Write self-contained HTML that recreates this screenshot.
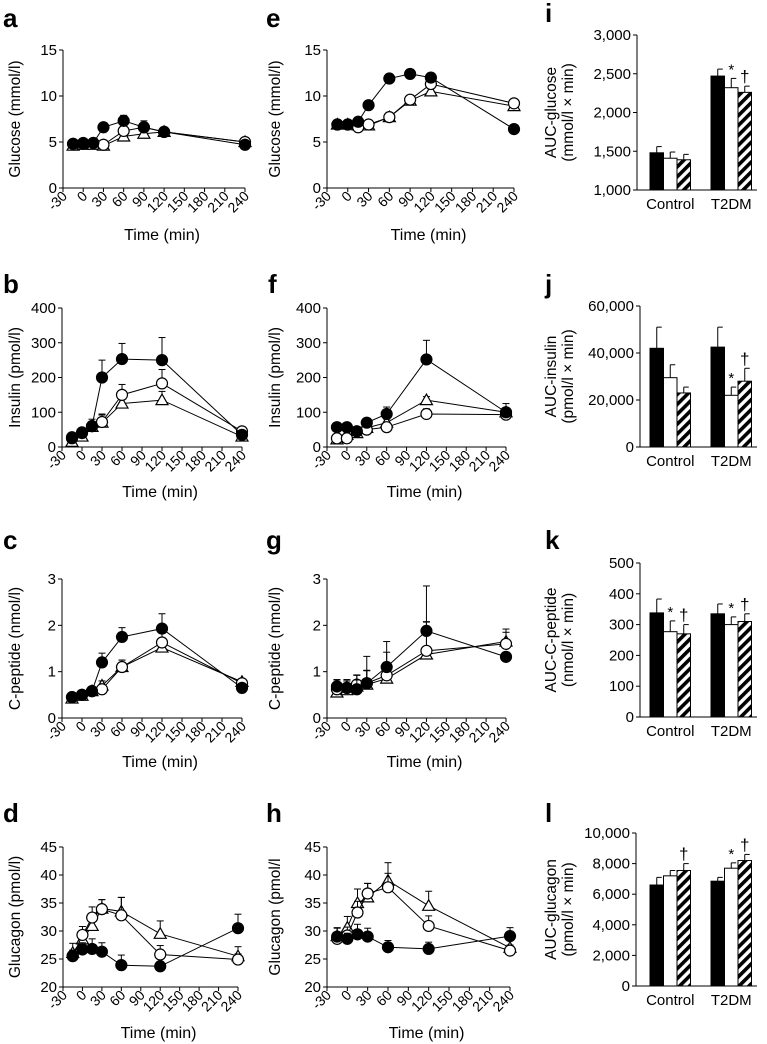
<!DOCTYPE html>
<html><head><meta charset="utf-8">
<style>
html,body{margin:0;padding:0;background:#fff;}
svg{display:block;font-family:"Liberation Sans",Arial,sans-serif;}
</style></head>
<body>
<svg id="fig" width="767" height="1044" viewBox="0 0 767 1044"></svg>
<script>
// ---- shared data ----
const timesA = [-15,0,15,30,60,90,120,240];
const timesB = [-15,0,15,30,60,120,240];
const xTickLabels = ["-30","0","30","60","90","120","150","180","210","240"];
const xTickValues = [-30,0,30,60,90,120,150,180,210,240];

// panel a (glucose, control)
const aBlack = [4.8,4.9,4.9,6.6,7.3,6.6,6.1,4.7];
const aOpen  = [4.8,4.8,4.9,4.7,6.2,6.6,6.1,5.0];
const aTri   = [4.6,4.7,4.7,4.6,5.6,5.9,6.1,5.0];
const aErrBlack = [0.2,0.2,0.2,0.3,0.6,0.4,0.3,0.2];
const aErrOpen  = [0.2,0.2,0.2,0.2,0.5,0.7,0.3,0.3];
const aErrTri   = [0.2,0.2,0.2,0.2,0.4,0.4,0.3,0.3];
// panel e (glucose, T2DM)
const eBlack = [6.9,6.9,7.2,9.0,11.9,12.4,12.0,6.4];
const eOpen  = [6.9,6.9,6.6,6.9,7.7,9.6,11.3,9.2];
const eTri   = [6.9,6.9,6.8,6.8,7.7,9.5,10.5,8.9];
const eErrBlack = [0.2,0.2,0.3,0.3,0.4,0.5,0.5,0.2];
const eErrOpen  = [0.2,0.2,0.2,0.2,0.3,0.5,0.5,0.4];
const eErrTri   = [0.2,0.2,0.2,0.2,0.3,0.5,0.5,0.4];
// panel b (insulin, control)
const bBlack = [25,40,60,200,253,250,35];
const bOpen  = [28,42,60,72,150,183,45];
const bTri   = [15,30,58,70,125,135,30];
const bErrBlack = [5,5,20,50,45,65,5];
const bErrOpen  = [5,5,10,20,30,40,5];
const bErrTri   = [5,5,10,25,20,25,5];
// panel f (insulin, T2DM)
const fBlack = [57,57,45,70,95,252,100];
const fOpen  = [25,25,45,50,57,95,93];
const fTri   = [22,35,40,55,70,135,100];
const fErrBlack = [10,12,10,10,20,55,25];
const fErrOpen  = [5,5,5,5,5,15,10];
const fErrTri   = [5,5,15,5,10,10,10];
// panel c (C-peptide, control)
const cBlack = [0.45,0.5,0.58,1.2,1.75,1.93,0.65];
const cOpen  = [0.45,0.5,0.58,0.62,1.1,1.63,0.75];
const cTri   = [0.42,0.48,0.58,0.7,1.1,1.52,0.78];
const cErrBlack = [0.03,0.03,0.04,0.2,0.2,0.32,0.05];
const cErrOpen  = [0.03,0.03,0.04,0.05,0.15,0.2,0.05];
const cErrTri   = [0.03,0.03,0.04,0.1,0.15,0.15,0.05];
// panel g (C-peptide, T2DM)
const gBlack = [0.68,0.65,0.62,0.75,1.1,1.88,1.32];
const gOpen  = [0.62,0.65,0.72,0.75,0.92,1.45,1.6];
const gTri   = [0.55,0.6,0.68,0.72,0.85,1.37,1.65];
const gErrBlack = [0.15,0.18,0.2,0.28,0.55,0.2,0.1];
const gErrOpen  = [0.2,0.15,0.2,0.58,0.5,1.4,0.32];
const gErrTri   = [0.15,0.2,0.25,0.3,0.3,0.7,0.2];
// panel d (glucagon, control)
const dBlack = [25.6,26.7,26.8,26.3,23.9,23.7,30.5];
const dOpen  = [25.5,29.3,32.4,33.9,32.8,25.8,24.9];
const dTri   = [26.1,28.5,30.9,34.0,33.5,29.5,25.5];
const dErrBlack = [1.0,1.2,1.8,1.6,1.8,0.8,2.5];
const dErrOpen  = [0.8,1.5,1.9,1.7,3.2,1.6,1.0];
const dErrTri   = [1.7,1.5,2.0,1.6,2.5,2.3,1.7];
// panel h (glucagon, T2DM)
const hBlack = [29.0,28.6,29.4,29.0,27.1,26.8,29.1];
const hOpen  = [28.6,29.2,33.3,36.7,37.8,30.9,26.5];
const hTri   = [29.1,30.6,35.0,36.0,39.0,34.5,27.0];
const hErrBlack = [1.5,1.0,1.8,1.5,1.2,1.2,1.5];
const hErrOpen  = [1.0,1.5,2.0,1.8,2.5,1.8,1.0];
const hErrTri   = [1.5,2.0,2.5,2.5,3.2,2.6,1.5];

// bar panels
const barCategories = ["Control","T2DM"];
const iBlack = [1480,2470], iWhite = [1410,2320], iHatch = [1390,2260];
const iErrBlack = [80,90], iErrWhite = [80,120], iErrHatch = [70,80];
const iTicks = [1000,1500,2000,2500,3000];
const iTickLabels = ["1,000","1,500","2,000","2,500","3,000"];
const jBlack = [42000,42500], jWhite = [29500,22000], jHatch = [23000,28000];
const jErrBlack = [9000,8500], jErrWhite = [5500,3500], jErrHatch = [2500,5500];
const jTicks = [0,20000,40000,60000];
const jTickLabels = ["0","20,000","40,000","60,000"];
const kBlack = [338,335], kWhite = [277,300], kHatch = [270,310];
const kErrBlack = [45,32], kErrWhite = [35,25], kErrHatch = [30,25];
const kTicks = [0,100,200,300,400,500];
const kTickLabels = ["0","100","200","300","400","500"];
const lBlack = [6600,6850], lWhite = [7200,7700], lHatch = [7550,8200];
const lErrBlack = [500,250], lErrWhite = [350,350], lErrHatch = [450,400];
const lTicks = [0,2000,4000,6000,8000,10000];
const lTickLabels = ["0","2,000","4,000","6,000","8,000","10,000"];

const NS = "http://www.w3.org/2000/svg";
const svg = document.getElementById('fig');
const defs = document.createElementNS(NS,'defs');
defs.innerHTML = '<pattern id="hatch" width="7" height="7" patternUnits="userSpaceOnUse" patternTransform="rotate(45)"><rect width="7" height="7" fill="#fff"/><rect width="3.6" height="7" fill="#000"/></pattern>';
svg.appendChild(defs);

function el(tag, attrs, parent){
  const e = document.createElementNS(NS, tag);
  for (const k in attrs) e.setAttribute(k, attrs[k]);
  (parent||svg).appendChild(e);
  return e;
}
function txt(s, attrs, parent){ const t = el('text', attrs, parent); t.textContent = s; return t; }

function panelLetter(ch, x, y){
  const t = txt(ch, {x:x, y:y, 'font-size':26, 'font-weight':'bold'});
  
  
}

function lineChart(cfg){
  const g = el('g', {});
  
  
  const L=cfg.left, R=cfg.right, T=cfg.top, B=cfg.bottom;
  const xs = v => L + (v+30)/270*(R-L);
  const ys = v => B - (v-cfg.ymin)/(cfg.ymax-cfg.ymin)*(B-T);
  const ya = el('line',{x1:L,y1:T,x2:L,y2:B,stroke:'#000','stroke-width':1},g);
   
  const xa = el('line',{x1:L,y1:B,x2:R,y2:B,stroke:'#000','stroke-width':1},g);
   
  cfg.yticks.forEach((v,i)=>{
    el('line',{x1:L-4,y1:ys(v),x2:L,y2:ys(v),stroke:'#000'},g);
    const t = txt(cfg.yticklabels[i],{x:L-6,y:ys(v)+5,'font-size':15,'text-anchor':'end'},g);
     
  });
  xTickValues.forEach((v,i)=>{
    el('line',{x1:xs(v),y1:B,x2:xs(v),y2:B+4,stroke:'#000'},g);
    const t = txt(xTickLabels[i],{x:xs(v)+5,y:B+9,'font-size':14,'text-anchor':'end',
      transform:`rotate(-45 ${xs(v)+5} ${B+9})`},g);
     
  });
  const yt = txt(cfg.ylabel,{x:0,y:0,'font-size':15.5,'text-anchor':'middle',
    transform:`translate(${cfg.ytx} ${(T+B)/2}) rotate(-90)`},g);
   
  const xt = txt('Time (min)',{x:(L+R)/2+8,y:cfg.xty,'font-size':16,'text-anchor':'middle'},g);
   
  const order = [['tri',cfg.tri,cfg.errTri],['open',cfg.open,cfg.errOpen],['black',cfg.black,cfg.errBlack]];
  order.forEach(([kind,vals,errs])=>{
    const sg = el('g',{},g);
    
    
    const pts = vals.map((v,i)=>xs(cfg.times[i])+','+ys(v)).join(' ');
    el('polyline',{points:pts,fill:'none',stroke:'#000','stroke-width':1},sg);
    vals.forEach((v,i)=>{
      const x = xs(cfg.times[i]), y = ys(v), ye = ys(v+errs[i]);
      el('line',{x1:x,y1:y,x2:x,y2:ye,stroke:'#000','stroke-width':1},sg);
      el('line',{x1:x-3.5,y1:ye,x2:x+3.5,y2:ye,stroke:'#000','stroke-width':1},sg);
    });
    vals.forEach((v,i)=>{
      const x = xs(cfg.times[i]), y = ys(v);
      let m;
      if (kind==='tri') m = el('polygon',{points:`${x},${y-6} ${x-6},${y+4.5} ${x+6},${y+4.5}`,fill:'#fff',stroke:'#000','stroke-width':1.2},sg);
      else m = el('circle',{cx:x,cy:y,r:5.5,fill:kind==='black'?'#000':'#fff',stroke:'#000','stroke-width':1.2},sg);
      
      
    });
  });
}

function barChart(cfg){
  const g = el('g',{});
  
  
  const L=cfg.left, R=757, T=cfg.top, B=cfg.bottom;
  const ymin = cfg.ticks[0], ymax = cfg.ticks[cfg.ticks.length-1];
  const ys = v => B - (v-ymin)/(ymax-ymin)*(B-T);
  const ya = el('line',{x1:L,y1:T,x2:L,y2:B,stroke:'#000'},g);
   
  const xa = el('line',{x1:L,y1:B,x2:R,y2:B,stroke:'#000'},g);
   
  cfg.ticks.forEach((v,i)=>{
    el('line',{x1:L-4,y1:ys(v),x2:L,y2:ys(v),stroke:'#000'},g);
    const t = txt(cfg.tickLabels[i],{x:L-6,y:ys(v)+5,'font-size':15,'text-anchor':'end'},g);
     
  });
  const yt = txt(cfg.title1,{x:0,y:0,'font-size':15.5,'text-anchor':'middle',transform:`translate(556 ${(T+B)/2}) rotate(-90)`},g);
   
  const yt2 = txt(cfg.title2,{x:0,y:0,'font-size':15.5,'text-anchor':'middle',transform:`translate(573 ${(T+B)/2}) rotate(-90)`},g);
   
  const starts = [650,711], bw = 13.5;
  barCategories.forEach((c,ci)=>{
    const cl = txt(c,{x:starts[ci]+bw*1.5,y:B+19,'font-size':15,'text-anchor':'middle'},g);
     
    const series = [['black',cfg.black,cfg.errBlack,'#000'],['white',cfg.white,cfg.errWhite,'#fff'],['hatched',cfg.hatch,cfg.errHatch,'url(#hatch)']];
    series.forEach(([kind,vals,errs,fill],si)=>{
      const x = starts[ci]+si*bw, v = vals[ci], y = ys(v), ye = ys(v+errs[ci]);
      el('line',{x1:x+bw/2,y1:y,x2:x+bw/2,y2:ye,stroke:'#000'},g);
      el('line',{x1:x+bw/2,y1:ye,x2:x+bw/2+5,y2:ye,stroke:'#000'},g);
      const r = el('rect',{x:x,y:y,width:bw,height:B-y,fill:fill,stroke:'#000','stroke-width':1},g);
      
      
      const mk = (cfg.marks[ci]||'')[si];
      if (mk && mk!==' ') {
        const s = txt(mk==='*'?'*':'†',{x:x+bw/2,y:ye-4,'font-size':mk==='*'?15:17,'text-anchor':'middle'},g);
         
      }
    });
  });
}

const rows = [
  {top:50, bottom:188, xty:240, letter:27},
  {top:308, bottom:447, xty:497, letter:293},
  {top:579, bottom:718, xty:767, letter:549},
  {top:847, bottom:987, xty:1038, letter:822}
];

panelLetter('a',3,rows[0].letter); panelLetter('b',3,rows[1].letter);
panelLetter('c',3,rows[2].letter); panelLetter('d',3,rows[3].letter);
panelLetter('e',266,rows[0].letter); panelLetter('f',268,rows[1].letter);
panelLetter('g',266,rows[2].letter); panelLetter('h',266,rows[3].letter);
panelLetter('i',545,22); panelLetter('j',545,293); panelLetter('k',545,549); panelLetter('l',545,822);

lineChart({name:'panel-a-glucose-control',left:63,right:245,top:rows[0].top,bottom:rows[0].bottom,xty:rows[0].xty,ytx:20,
  ymin:0,ymax:15,yticks:[0,5,10,15],yticklabels:['0','5','10','15'],ylabel:'Glucose (mmol/l)',
  times:timesA,black:aBlack,open:aOpen,tri:aTri,errBlack:aErrBlack,errOpen:aErrOpen,errTri:aErrTri});
lineChart({name:'panel-b-insulin-control',left:62,right:242,top:rows[1].top,bottom:rows[1].bottom,xty:rows[1].xty,ytx:20,
  ymin:0,ymax:400,yticks:[0,100,200,300,400],yticklabels:['0','100','200','300','400'],ylabel:'Insulin (pmol/l)',
  times:timesB,black:bBlack,open:bOpen,tri:bTri,errBlack:bErrBlack,errOpen:bErrOpen,errTri:bErrTri});
lineChart({name:'panel-c-cpeptide-control',left:62,right:242,top:rows[2].top,bottom:rows[2].bottom,xty:rows[2].xty,ytx:20,
  ymin:0,ymax:3,yticks:[0,1,2,3],yticklabels:['0','1','2','3'],ylabel:'C-peptide (nmol/l)',
  times:timesB,black:cBlack,open:cOpen,tri:cTri,errBlack:cErrBlack,errOpen:cErrOpen,errTri:cErrTri});
lineChart({name:'panel-d-glucagon-control',left:63,right:238,top:rows[3].top,bottom:rows[3].bottom,xty:rows[3].xty,ytx:20,
  ymin:20,ymax:45,yticks:[20,25,30,35,40,45],yticklabels:['20','25','30','35','40','45'],ylabel:'Glucagon (pmol/l)',
  times:timesB,black:dBlack,open:dOpen,tri:dTri,errBlack:dErrBlack,errOpen:dErrOpen,errTri:dErrTri});

lineChart({name:'panel-e-glucose-t2dm',left:327,right:514,top:rows[0].top,bottom:rows[0].bottom,xty:rows[0].xty,ytx:280,
  ymin:0,ymax:15,yticks:[0,5,10,15],yticklabels:['0','5','10','15'],ylabel:'Glucose (mmol/l)',
  times:timesA,black:eBlack,open:eOpen,tri:eTri,errBlack:eErrBlack,errOpen:eErrOpen,errTri:eErrTri});
lineChart({name:'panel-f-insulin-t2dm',left:327,right:506,top:rows[1].top,bottom:rows[1].bottom,xty:rows[1].xty,ytx:280,
  ymin:0,ymax:400,yticks:[0,100,200,300,400],yticklabels:['0','100','200','300','400'],ylabel:'Insulin (pmol/l)',
  times:timesB,black:fBlack,open:fOpen,tri:fTri,errBlack:fErrBlack,errOpen:fErrOpen,errTri:fErrTri});
lineChart({name:'panel-g-cpeptide-t2dm',left:327,right:506,top:rows[2].top,bottom:rows[2].bottom,xty:rows[2].xty,ytx:280,
  ymin:0,ymax:3,yticks:[0,1,2,3],yticklabels:['0','1','2','3'],ylabel:'C-peptide (nmol/l)',
  times:timesB,black:gBlack,open:gOpen,tri:gTri,errBlack:gErrBlack,errOpen:gErrOpen,errTri:gErrTri});
lineChart({name:'panel-h-glucagon-t2dm',left:327,right:510,top:rows[3].top,bottom:rows[3].bottom,xty:rows[3].xty,ytx:280,
  ymin:20,ymax:45,yticks:[20,25,30,35,40,45],yticklabels:['20','25','30','35','40','45'],ylabel:'Glucagon (pmol/l',
  times:timesB,black:hBlack,open:hOpen,tri:hTri,errBlack:hErrBlack,errOpen:hErrOpen,errTri:hErrTri});

barChart({name:'panel-i-auc-glucose',left:637,top:35,bottom:190,ticks:iTicks,tickLabels:iTickLabels,
  title1:'AUC-glucose',title2:'(mmol/l × min)',black:iBlack,white:iWhite,hatch:iHatch,
  errBlack:iErrBlack,errWhite:iErrWhite,errHatch:iErrHatch,marks:['   ',' *†']});
barChart({name:'panel-j-auc-insulin',left:640,top:306,bottom:447,ticks:jTicks,tickLabels:jTickLabels,
  title1:'AUC-insulin',title2:'(pmol/l × min)',black:jBlack,white:jWhite,hatch:jHatch,
  errBlack:jErrBlack,errWhite:jErrWhite,errHatch:jErrHatch,marks:['   ',' *†']});
barChart({name:'panel-k-auc-cpeptide',left:640,top:563,bottom:717,ticks:kTicks,tickLabels:kTickLabels,
  title1:'AUC-C-peptide',title2:'(nmol/l × min)',black:kBlack,white:kWhite,hatch:kHatch,
  errBlack:kErrBlack,errWhite:kErrWhite,errHatch:kErrHatch,marks:[' *†',' *†']});
barChart({name:'panel-l-auc-glucagon',left:636,top:833,bottom:986,ticks:lTicks,tickLabels:lTickLabels,
  title1:'AUC-glucagon',title2:'(pmol/l × min)',black:lBlack,white:lWhite,hatch:lHatch,
  errBlack:lErrBlack,errWhite:lErrWhite,errHatch:lErrHatch,marks:['  †',' *†']});
</script>
</body></html>
